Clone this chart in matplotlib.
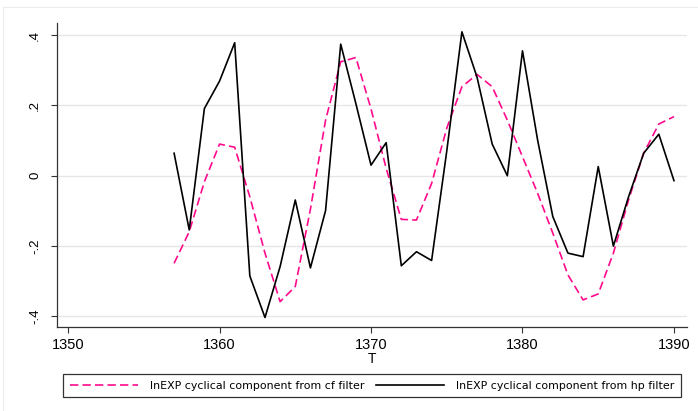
import matplotlib
matplotlib.use("Agg")
import matplotlib.pyplot as plt
from matplotlib.patches import Rectangle

# years and the two cyclical components
years = list(range(1357, 1391))
cf_cycle = [-0.249, -0.159, -0.017, 0.090, 0.081, -0.060, -0.220, -0.358,
            -0.315, -0.095, 0.158, 0.324, 0.336, 0.190, 0.021, -0.124,
            -0.126, -0.022, 0.135, 0.253, 0.288, 0.253, 0.158, 0.054,
            -0.050, -0.163, -0.282, -0.353, -0.336, -0.220, -0.069, 0.064,
            0.147, 0.168]
hp_cycle = [0.064, -0.154, 0.191, 0.269, 0.378, -0.285, -0.403, -0.258,
            -0.069, -0.262, -0.099, 0.374, 0.205, 0.030, 0.094, -0.256,
            -0.216, -0.241, 0.070, 0.409, 0.280, 0.090, 0.000, 0.355,
            0.101, -0.116, -0.220, -0.230, 0.026, -0.200, -0.060, 0.064,
            0.118, -0.014]

xticks = [1350, 1360, 1370, 1380, 1390]
yticks = [-0.4, -0.2, 0.0, 0.2, 0.4]
ytick_labels = ["-.4", "-.2", "0", ".2", ".4"]

labels = ["lnEXP cyclical component from cf filter",
          "lnEXP cyclical component from hp filter"]

plt.rcParams["font.family"] = ["Liberation Sans", "DejaVu Sans"]

W, H = 698, 411
fig = plt.figure(figsize=(W / 100, H / 100), dpi=100)
fig.patch.set_facecolor("white")

# faint outer frame
fig.add_artist(Rectangle((3 / W, -0.01), 1.0, (H - 7) / H + 0.01,
                         transform=fig.transFigure, fill=False,
                         edgecolor="#ececec", linewidth=0.8))

ax = fig.add_axes([56.7 / W, (H - 327) / H, (687 - 56.7) / W, (327 - 22.7) / H])

l1, = ax.plot(years, cf_cycle, color="#ff0a8c", lw=1.2, dashes=(5, 2.5))
l2, = ax.plot(years, hp_cycle, color="black", lw=1.2)

ax.set_xlim(1349.25, 1390.86)
ax.set_ylim(-0.43, 0.435)
ax.set_xticks(xticks)
ax.set_yticks(yticks)
ax.set_yticklabels(ytick_labels, rotation=90, va="center")
ax.tick_params(axis="x", labelsize=10.5, length=4.3, width=0.8, pad=3.5,
               color="#333333")
ax.tick_params(axis="y", labelsize=9.5, length=4.3, width=0.8, pad=7,
               color="#333333")

for s in ("top", "right"):
    ax.spines[s].set_visible(False)
for s in ("left", "bottom"):
    ax.spines[s].set_color("#333333")
    ax.spines[s].set_linewidth(0.9)

ax.yaxis.grid(True, color="#e6e6e6", lw=1.0)
ax.set_axisbelow(True)

ax.set_xlabel("T", fontsize=10, labelpad=0)

leg = fig.legend([l1, l2], labels, ncol=2, loc="upper left",
                 bbox_to_anchor=(63 / W, (H - 374) / H),
                 borderaxespad=0, fancybox=False, framealpha=1,
                 edgecolor="#333333", handlelength=6.2, handletextpad=1.1,
                 columnspacing=1.1, borderpad=0.6,
                 prop={"family": "DejaVu Sans", "size": 7.9})
leg.get_frame().set_linewidth(0.9)

fig.savefig("out.png", dpi=100)
